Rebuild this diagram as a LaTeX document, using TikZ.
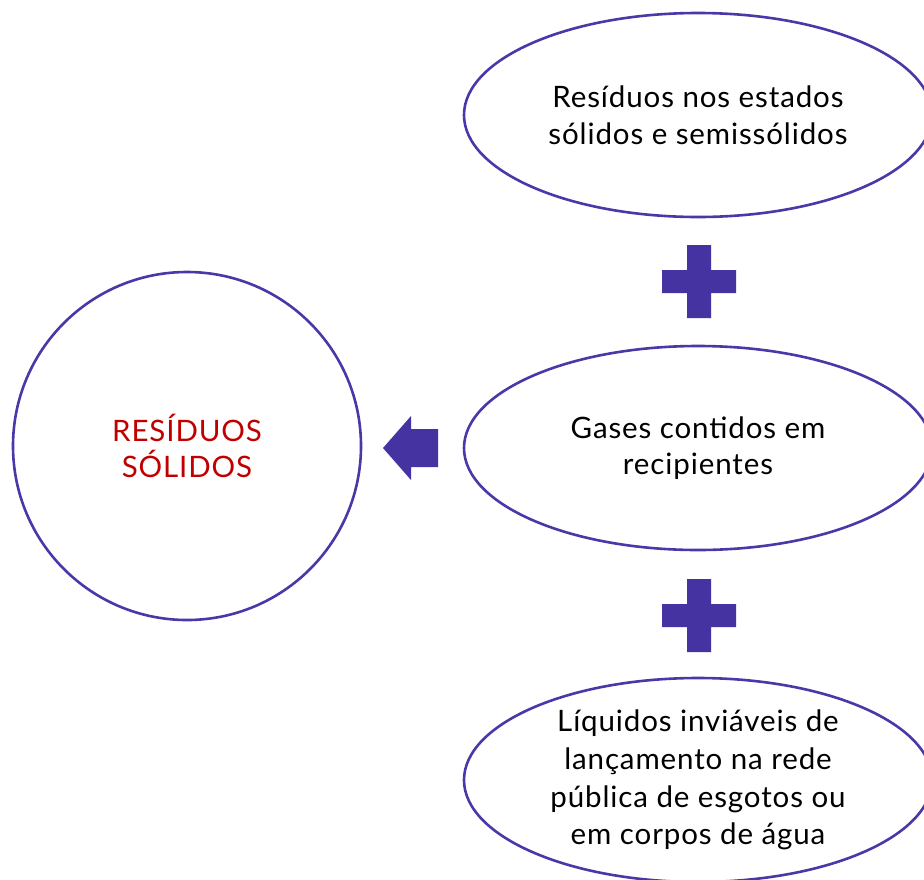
\documentclass[tikz,border=0pt]{standalone}
\usepackage{fontspec}
\setmainfont{Lato}[LetterSpace=3]
\usetikzlibrary{shapes.geometric}
\definecolor{violetline}{HTML}{4A38A8}
\definecolor{violetfill}{HTML}{4433A0}
\definecolor{titlered}{HTML}{C00000}
\tikzset{
  oval/.style={ellipse, draw=violetline, line width=2.6pt, inner sep=0pt,
    minimum width=468pt, minimum height=204pt, align=center,
    font=\fontsize{29.5}{36.5}\selectfont, text=black},
  bigcircle/.style={circle, draw=violetline, line width=2.6pt, inner sep=0pt,
    minimum size=348pt, align=center,
    font=\fontsize{29.5}{36}\selectfont, text=titlered},
  plussign/.style={fill=violetfill},
}
\begin{document}
\begin{tikzpicture}[x=1pt,y=-1pt]
\useasboundingbox (0,0) rectangle (924,879);
\clip (0,0) rectangle (924,879);
\node[bigcircle] (total) at (187,446) {RESÍDUOS\\SÓLIDOS};
\node[oval] (solidos) at (698,115) {Resíduos nos estados\\sólidos e semissólidos};
\node[oval] (gases) at (698,448) {Gases contidos em\\recipientes};
\node[oval, font=\fontsize{29.5}{37.8}\selectfont] (liquidos) at (698,780) {Líquidos inviáveis de\\lançamento na rede\\pública de esgotos ou\\em corpos de água};
% plus signs
\fill[plussign] (687,245) rectangle (711,318) (662,270) rectangle (736,293);
\fill[plussign] (687,579) rectangle (711,652) (662,604) rectangle (736,627);
% block arrow pointing left
\fill[violetfill] (383,448) -- (411,416) -- (411,429) -- (438,429) -- (438,467) -- (411,467) -- (411,480) -- cycle;
\end{tikzpicture}
\end{document}
